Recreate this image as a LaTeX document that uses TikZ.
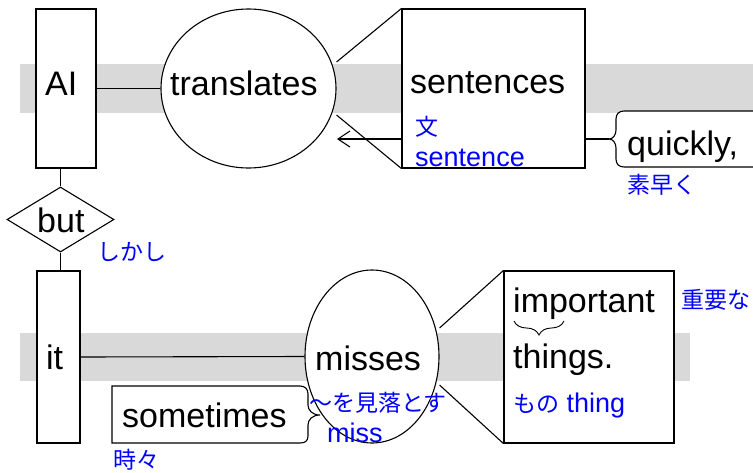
\documentclass[tikz,border=0pt]{standalone}
\usepackage{fontspec}
\setmainfont{Liberation Sans}
\newfontfamily\jpfont{Noto Sans CJK JP}
\usetikzlibrary{shapes.geometric,arrows.meta,decorations.pathreplacing}
\definecolor{bandgray}{RGB}{217,217,217}
\definecolor{glossblue}{RGB}{0,0,255}
\newcommand\Jp[1]{{\jpfont\fontsize{23}{28}\selectfont #1}}
\begin{document}
\begin{tikzpicture}[x=1pt,y=-1pt,
  ln/.style={line width=1.1pt, draw=black},
  boxnode/.style={ln, rectangle, fill=white, inner sep=0pt},
  ellnode/.style={ln, ellipse, fill=white, inner sep=0pt},
  word/.style={inner sep=0pt, anchor=base west, font=\fontsize{34}{40}\selectfont},
  gloss/.style={inner sep=0pt, text=glossblue, font=\fontsize{27}{32}\selectfont},
  band/.style={fill=bandgray, draw=none}]
\useasboundingbox (0,0) rectangle (753,472);
\fill[white] (0,0) rectangle (753,472);
% bands
\fill[band] (20,64) rectangle (753,113);
\fill[band] (20,333) rectangle (690,381);
% main nodes
\node[boxnode, minimum width=60pt, minimum height=159pt] (ai) at (66,88.5) {};
\node[ellnode, minimum width=175pt, minimum height=159pt] (translates) at (248.5,88.5) {};
\node[boxnode, minimum width=183pt, minimum height=159pt] (sentences) at (493.5,88.5) {};
\node[ln, diamond, fill=white, minimum width=107pt, minimum height=65pt, inner sep=0pt, aspect=1.65] (but) at (60.5,219.5) {};
\node[boxnode, minimum width=43pt, minimum height=172pt] (it) at (58.5,357) {};
\node[ellnode, minimum width=134pt, minimum height=173pt] (misses) at (372,356.5) {};
\node[boxnode, minimum width=170pt, minimum height=172pt] (things) at (589,357) {};
% connectors
\draw[ln] (ai.east) -- (translates.west);
\draw[ln] (sentences.north west) -- ([yshift=26.5pt]translates.east);
\draw[ln] (sentences.south west) -- ([yshift=-26.5pt]translates.east);
\coordinate (arrowtip) at (337,139);
\draw[ln, -{Straight Barb[length=12pt,width=16pt]}] (sentences.west |- arrowtip) -- (arrowtip);
\draw[ln] (but.north |- ai.south) -- (but.north);
\draw[ln] (but.south) -- (but.south |- it.north);
\draw[ln] (it.east) -- (misses.west);
\draw[ln] (things.north west) -- ([yshift=28.5pt]misses.east);
\draw[ln] (things.south west) -- ([yshift=-28.5pt]misses.east);
% quickly box
\coordinate (qtip) at (609,139);
\draw[ln, fill=white] (765,111) -- (624,111) .. controls (619,111) and (616,114) .. (616,119) -- (616,130)
  .. controls (616,135) and (613,139) .. (qtip) .. controls (613,139) and (616,143) .. (616,148) -- (616,159)
  .. controls (616,164) and (619,167) .. (624,167) -- (765,167);
\draw[ln] (sentences.east |- qtip) -- (qtip);
% sometimes box
\coordinate (stip) at (320,415);
\draw[ln, fill=white] (112,386) -- (300,386) .. controls (305,386) and (308,389) .. (308,394) -- (308,405)
  .. controls (308,410) and (312,415) .. (stip) .. controls (312,415) and (308,420) .. (308,425) -- (308,436)
  .. controls (308,441) and (305,443) .. (300,443) -- (112,443) -- cycle;
% texts
\node[word] (tai) at (45,95) {AI};
\node[word] (ttrans) at (170,95) {translates};
\node[word] (tsent) at (410,93) {sentences};
\node[gloss, anchor=west] (gbun) at (415,127) {\Jp{文}};
\node[gloss, anchor=base west] (gsent) at (415,166) {sentence};
\node[word] (tquick) at (627,155) {quickly,};
\node[gloss, anchor=west] (gsuba) at (627,185) {\Jp{素早く}};
\node[word] (tbut) at (37,232) {but};
\node[gloss, anchor=west] (gbut) at (97,252) {\Jp{しかし}};
\node[word] (tit) at (46,369) {it};
\node[word] (tmiss) at (315,370) {misses};
\node[word] (tsome) at (122,427) {sometimes};
\node[gloss, anchor=west] (gsome) at (113,460) {\Jp{時々}};
\node[gloss, anchor=west] (gmiss) at (309,403) {\Jp{〜を見落とす}};
\node[gloss, anchor=base west] (gmiss2) at (327,442) {miss};
\node[word] (timp) at (513,312) {important};
\node[word] (tthings) at (513,368) {things.};
\node[gloss, anchor=base west] (gthing) at (513,412) {\Jp{もの} thing};
\node[gloss, anchor=west] (gimp) at (681,300) {\Jp{重要な}};
% underbrace
\draw[line width=0.9pt, decorate, decoration={brace, amplitude=14pt, aspect=0.5, mirror}] (514,321) -- (564,321);
\end{tikzpicture}
\end{document}
